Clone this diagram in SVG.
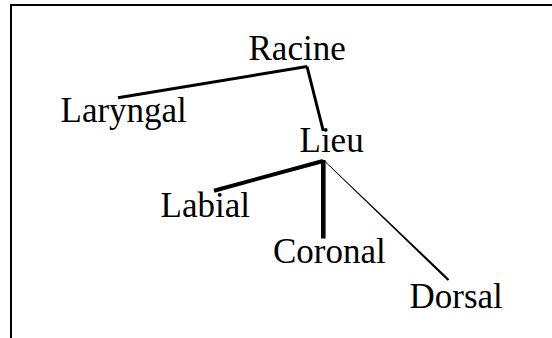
<svg xmlns="http://www.w3.org/2000/svg" width="552" height="338" viewBox="0 0 552 338">
<style>
.lbl{font-family:"Liberation Serif","Times New Roman",serif;font-size:35px;fill:#000}
.edge{stroke:#000;fill:none;stroke-linecap:butt}
</style>
<rect x="0" y="0" width="552" height="338" fill="#fff"/>
<path d="M11,338 V5 H552" fill="none" stroke="#000" stroke-width="2"/>
<g id="connectors">
<line class="edge" x1="118" y1="97.7" x2="307" y2="66.5" stroke-width="3"/>
<line class="edge" x1="307" y1="66.5" x2="323.3" y2="131" stroke-width="3"/>
<line class="edge" x1="214" y1="190.7" x2="323" y2="161" stroke-width="4"/>
<line class="edge" x1="323.3" y1="160" x2="323.3" y2="238.5" stroke-width="4.6"/>
<polygon points="323.5,160.5 324.2,160.2 449.4,279.2 447.6,280.8" fill="#000"/>
</g>
<g id="racine"><text class="lbl" x="248.5" y="59.5">Racine</text></g>
<g id="laryngal"><text class="lbl" x="60.5" y="121.5">Laryngal</text></g>
<g id="lieu"><text class="lbl" x="299.5" y="152">Lieu</text></g>
<g id="labial"><text class="lbl" x="160.5" y="216.5">Labial</text></g>
<g id="coronal"><text class="lbl" x="273" y="263">Coronal</text></g>
<g id="dorsal"><text class="lbl" x="409.5" y="308">Dorsal</text></g>
</svg>
